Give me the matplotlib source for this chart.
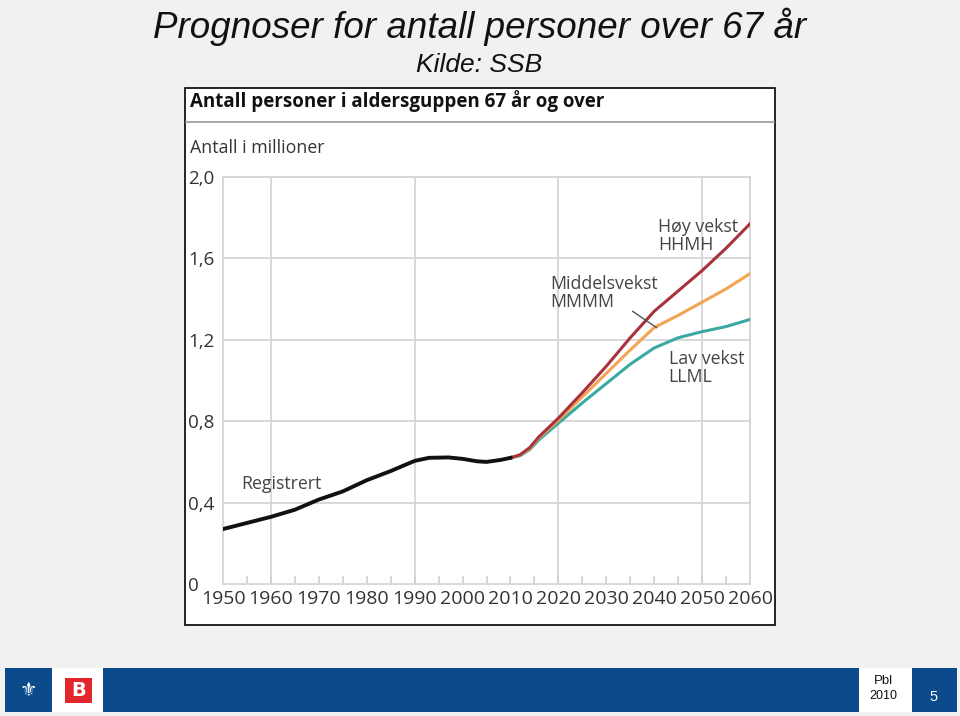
import matplotlib.pyplot as plt
from matplotlib.patches import Rectangle
import numpy as np

# Data, millions of persons aged 67+
reg_years = [1950, 1955, 1960, 1965, 1970, 1975, 1980, 1985, 1990, 1993, 1997, 2000, 2003, 2005, 2008, 2010]
reg_vals = [0.27, 0.30, 0.33, 0.365, 0.415, 0.455, 0.51, 0.555, 0.605, 0.62, 0.622, 0.615, 0.603, 0.60, 0.61, 0.62]

proj_years = [2010, 2012, 2014, 2016, 2020, 2025, 2030, 2035, 2040, 2045, 2050, 2055, 2060]
high_vals = [0.62, 0.635, 0.67, 0.725, 0.815, 0.94, 1.07, 1.21, 1.34, 1.44, 1.54, 1.65, 1.77]
mid_vals = [0.62, 0.633, 0.665, 0.72, 0.805, 0.92, 1.035, 1.15, 1.26, 1.32, 1.385, 1.45, 1.525]
low_vals = [0.62, 0.63, 0.66, 0.71, 0.79, 0.89, 0.985, 1.08, 1.16, 1.21, 1.24, 1.265, 1.30]

x_ticks = list(range(1950, 2061, 10))
y_ticks = [0, 0.4, 0.8, 1.2, 1.6, 2.0]
y_labels = ["0", "0,4", "0,8", "1,2", "1,6", "2,0"]

W, H = 960, 716
fig = plt.figure(figsize=(W / 100, H / 100), dpi=100)
fig.patch.set_facecolor("#f1f1f1")

def fx(px):
    return px / W

def fy(py):
    return 1 - py / H

# slide title
fig.text(fx(480), fy(27), "Prognoser for antall personer over 67 år", ha="center", va="center",
         fontsize=26.5, style="italic", family="Liberation Sans", color="#111111")
fig.text(fx(479), fy(65), "Kilde: SSB", ha="center", va="center",
         fontsize=19, style="italic", family="Liberation Sans", color="#111111")

# chart frame
fig.patches.append(Rectangle((fx(185), fy(625)), fx(775) - fx(185), fy(88) - fy(625),
                             transform=fig.transFigure, facecolor="white", edgecolor="black",
                             linewidth=1.2, zorder=0))
fig.text(fx(190), fy(101), "Antall personer i aldersguppen 67 år og over", ha="left", va="center",
         fontsize=13.5, fontweight="bold", family="Open Sans", color="#111111")
fig.add_artist(plt.Line2D([fx(186), fx(774)], [fy(122), fy(122)], color="#9a9a9a", lw=1.2,
                          transform=fig.transFigure))
fig.text(fx(190), fy(148), "Antall i millioner", ha="left", va="center",
         fontsize=12.8, family="Open Sans", color="#333333")

ax = fig.add_axes([fx(223), fy(584), fx(750) - fx(223), fy(177) - fy(584)])
ax.set_zorder(5)
ax.set_xlim(1950, 2060)
ax.set_ylim(0, 2.0)
ax.set_facecolor("white")
for s in ax.spines.values():
    s.set_color("#d6d6d6")
    s.set_linewidth(1.3)

for gx in [1960, 1990, 2020, 2050]:
    ax.axvline(gx, color="#d6d6d6", lw=1.3, zorder=1)
for gy in y_ticks[1:]:
    ax.axhline(gy, color="#d6d6d6", lw=1.3, zorder=1)
for tx in range(1955, 2060, 5):
    ax.plot([tx, tx], [0, 0.035], color="#cfcfcf", lw=1.2, zorder=1)

ax.set_xticks(x_ticks)
ax.set_xticklabels([str(x) for x in x_ticks])
ax.set_yticks(y_ticks)
ax.set_yticklabels(y_labels)
ax.tick_params(axis="both", length=0, labelsize=13.5, colors="#333333")
ax.tick_params(axis="x", labelsize=14, pad=4)
ax.tick_params(axis="y", pad=25)
for lab in ax.get_yticklabels():
    lab.set_horizontalalignment("left")
    lab.set_family("Open Sans")
for lab in ax.get_xticklabels():
    lab.set_family("Open Sans")

ax.plot(proj_years, low_vals, color="#3aa9a3", lw=2.2, zorder=3)
ax.plot(proj_years, mid_vals, color="#f2a552", lw=2.2, zorder=4)
ax.plot(proj_years, high_vals, color="#a8323e", lw=2.2, zorder=5)
ax.plot(reg_years, reg_vals, color="#111111", lw=2.8, zorder=6)

tkw = dict(fontsize=12.8, family="Open Sans", color="#444444", ha="left", va="center", linespacing=1.0)
ax.text(1953.8, 0.49, "Registrert", **tkw)
ax.text(2040.8, 1.71, "Høy vekst\nHHMH", **tkw)
ax.text(2018.3, 1.43, "Middelsvekst\nMMMM", **tkw)
ax.text(2043, 1.06, "Lav vekst\nLLML", **tkw)
ax.plot([2035.5, 2040.5], [1.34, 1.26], color="#555555", lw=1.0, zorder=7)

# footer bar
blue = "#0b4a8b"
fig.patches.append(Rectangle((fx(5), fy(712)), fx(47), fy(668) - fy(712), transform=fig.transFigure,
                             facecolor=blue, edgecolor="none"))
fig.patches.append(Rectangle((fx(103), fy(712)), fx(756), fy(668) - fy(712), transform=fig.transFigure,
                             facecolor=blue, edgecolor="none"))
fig.patches.append(Rectangle((fx(912), fy(712)), fx(45), fy(668) - fy(712), transform=fig.transFigure,
                             facecolor=blue, edgecolor="none"))
fig.patches.append(Rectangle((fx(52), fy(712)), fx(51), fy(668) - fy(712), transform=fig.transFigure,
                             facecolor="white", edgecolor="none"))
fig.patches.append(Rectangle((fx(859), fy(712)), fx(53), fy(668) - fy(712), transform=fig.transFigure,
                             facecolor="white", edgecolor="none"))
fig.patches.append(Rectangle((fx(65), fy(703)), fx(27), fy(678) - fy(703), transform=fig.transFigure,
                             facecolor="#e3262b", edgecolor="none"))
fig.text(fx(78.5), fy(691), "B", ha="center", va="center", fontsize=14, fontweight="bold",
         color="white", family="DejaVu Sans")
fig.text(fx(28), fy(690), "⚜", ha="center", va="center", fontsize=14, color="white", family="DejaVu Sans")
fig.text(fx(883), fy(681), "Pbl", ha="center", va="center", fontsize=9.5, color="#111111", family="Liberation Sans")
fig.text(fx(883), fy(696), "2010", ha="center", va="center", fontsize=9, color="#111111", family="Liberation Sans")
fig.text(fx(934), fy(697), "5", ha="center", va="center", fontsize=10.5, color="white", family="Liberation Sans")

fig.savefig("out.png", dpi=100, facecolor=fig.get_facecolor())
